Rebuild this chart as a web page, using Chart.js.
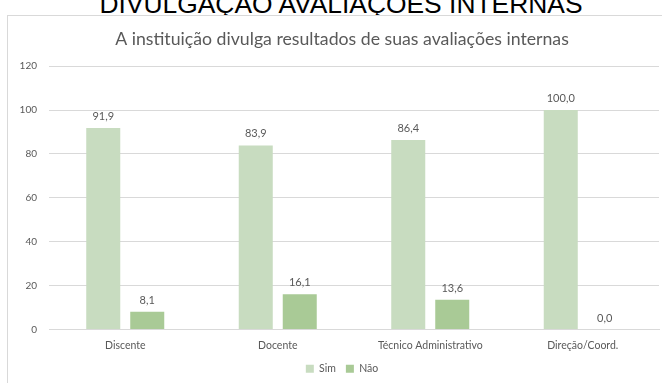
<!DOCTYPE html>
<html>
<head>
<meta charset="utf-8">
<script src="https://cdn.jsdelivr.net/npm/chart.js@4"></script>
<style>
  html, body { margin: 0; padding: 0; background: #fff; overflow: hidden; width: 662px; height: 383px; }
  #heading {
    position: absolute; left: 0; width: 682px; top: -9px;
    text-align: center; font-family: "Liberation Sans", Arial, sans-serif;
    font-size: 26.4px; line-height: 26px; color: #000; white-space: nowrap;
  }
  #box {
    position: absolute; left: 7px; top: 15px; width: 668px; height: 380px;
    border: 1px solid #D9D9D9; background: #fff;
  }
  #wrap { position: relative; width: 668px; height: 372px; }
</style>
</head>
<body>
<div id="heading">DIVULGAÇÃO AVALIAÇÕES INTERNAS</div>
<div id="box"><div id="wrap"><canvas id="myChart"></canvas></div></div>
<script>
const categorias = ['Discente', 'Docente', 'Técnico Administrativo', 'Direção/Coord.'];
const dadosSim = [91.9, 83.9, 86.4, 100.0];
const dadosNao = [8.1, 16.1, 13.6, 0.0];
const ticksY = [0, 20, 40, 60, 80, 100, 120];

const corTexto = '#595959';
const fonte = 'Lato, "Noto Sans", sans-serif';

// rótulos de valor em cima das barras (formato 91,9)
const rotulos = {
    id: 'rotulos',
    afterDatasetsDraw(chart) {
        const ctx = chart.ctx;
        ctx.save();
        ctx.font = '11px ' + fonte;
        ctx.fillStyle = corTexto;
        ctx.textAlign = 'center';
        ctx.textBaseline = 'bottom';
        chart.data.datasets.forEach(function (ds, i) {
            chart.getDatasetMeta(i).data.forEach(function (bar, j) {
                const txt = ds.data[j].toFixed(1).replace('.', ',');
                ctx.fillText(txt, bar.x, bar.y - 6);
            });
        });
        ctx.restore();
    }
};

const ctx = document.querySelector('#myChart').getContext('2d');
const myChart = new Chart(ctx, {
    type: 'bar',
    data: {
        labels: categorias,
        datasets: [{
            label: 'Sim',
            data: dadosSim,
            backgroundColor: '#C8DCC0',
            categoryPercentage: 0.577,
            barPercentage: 0.773
        },
        {
            label: 'Não',
            data: dadosNao,
            backgroundColor: '#A9CA96',
            categoryPercentage: 0.577,
            barPercentage: 0.773
        }]
    },
    options: {
        responsive: true,
        maintainAspectRatio: false,
        animation: false,
        layout: { padding: { bottom: 4 } },
        plugins: {
            title: {
                display: true,
                text: 'A instituição divulga resultados de suas avaliações internas',
                color: corTexto,
                font: { family: fonte, size: 17.7, weight: 'normal' },
                padding: { top: 13, bottom: 16 }
            },
            legend: {
                position: 'bottom',
                labels: {
                    color: corTexto,
                    font: { family: fonte, size: 10.5 },
                    boxWidth: 8,
                    boxHeight: 8,
                    padding: 10
                }
            },
            tooltip: { enabled: false }
        },
        scales: {
            x: {
                grid: { display: false, drawTicks: false },
                border: { color: '#D9D9D9' },
                ticks: { color: corTexto, font: { family: fonte, size: 10.5 }, padding: 10 },
                afterFit: function (scale) { scale.height = 24; }
            },
            y: {
                min: 0,
                max: 120,
                afterBuildTicks: function (scale) {
                    scale.ticks = ticksY.map(v => ({ value: v }));
                },
                grid: { color: '#D9D9D9', drawTicks: false },
                border: { display: false },
                ticks: { color: corTexto, font: { family: fonte, size: 10 }, padding: 12 },
                afterFit: function (scale) { scale.width = 41; }
            },
            // eixo vazio à direita só para reservar espaço
            yDir: {
                type: 'linear',
                position: 'right',
                grid: { display: false, drawTicks: false },
                border: { display: false },
                ticks: { display: false },
                afterFit: function (scale) { scale.width = 17; }
            }
        }
    },
    plugins: [rotulos]
});
</script>
</body>
</html>
